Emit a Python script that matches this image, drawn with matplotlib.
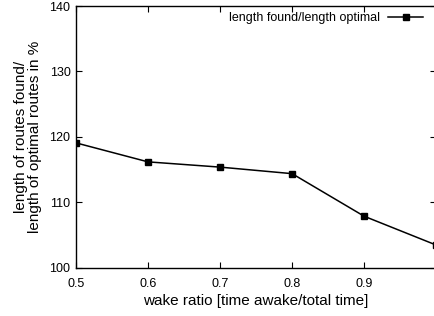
import numpy as np
import matplotlib.pyplot as plt

wake_ratio = [0.5, 0.6, 0.7, 0.8, 0.9, 1.0]
length_ratio = [119.1, 116.2, 115.4, 114.4, 107.9, 103.5]

plt.rcParams.update({
    'font.family': 'Liberation Sans',
    'axes.labelsize': 11,
    'xtick.labelsize': 9,
    'ytick.labelsize': 9,
    'legend.fontsize': 9,
})

fig = plt.figure(figsize=(4.35, 3.16), dpi=100)
ax = fig.add_axes([0.1747, 0.152, 0.828, 0.829])

ax.plot(wake_ratio, length_ratio, 'k-', marker='s', markersize=4.5, linewidth=1.1,
        label='length found/length optimal')

ax.set_xlim(0.5, 1.0)
ax.set_ylim(100, 140)
ax.set_xticks([0.5, 0.6, 0.7, 0.8, 0.9])
ax.set_yticks([100, 110, 120, 130, 140])
ax.tick_params(direction='in', top=True, right=True, length=4, width=0.8, pad=4)
ax.tick_params(axis='x', pad=7)
for s in ax.spines.values():
    s.set_linewidth(1.0)

ax.set_xlabel('wake ratio [time awake/total time]', labelpad=3)
ax.set_ylabel('length of routes found/\nlength of optimal routes in %', labelpad=5,
              linespacing=1.0)
ax.legend(loc='upper right', frameon=False, markerfirst=False, handlelength=2.8,
          borderaxespad=0.2, handletextpad=0.7, bbox_to_anchor=(0.985, 1.005))

fig.savefig('out.png', dpi=100)
